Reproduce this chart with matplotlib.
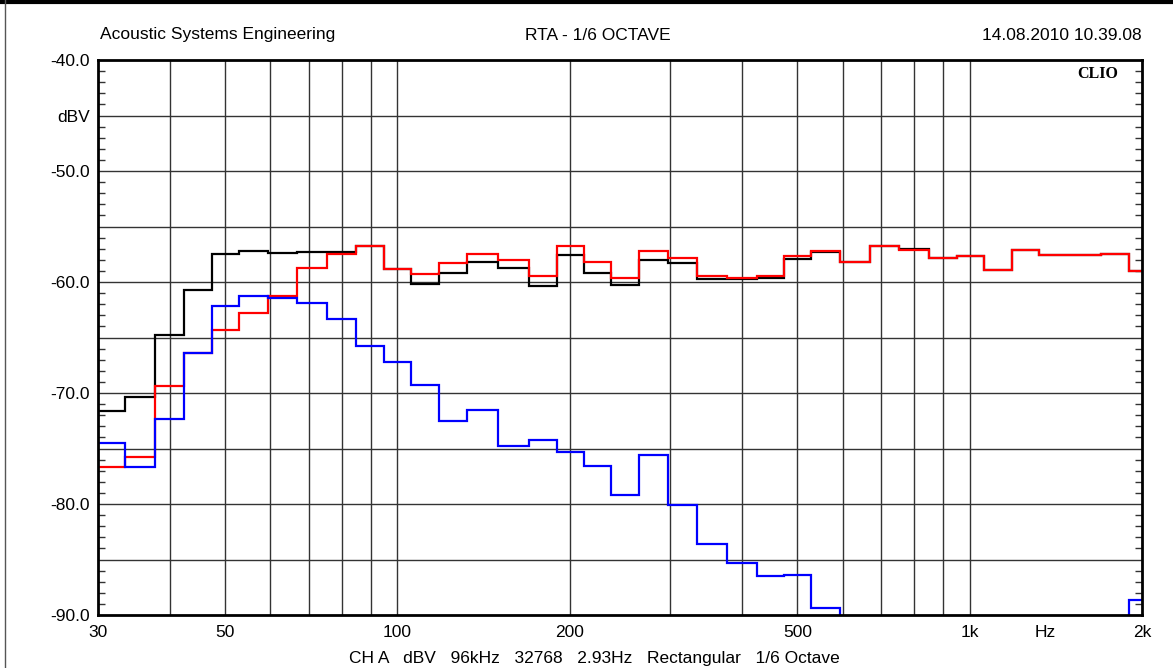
import numpy as np
import matplotlib
matplotlib.use("Agg")
import matplotlib.pyplot as plt
from matplotlib.ticker import FixedLocator, FixedFormatter, MultipleLocator, NullFormatter

# ---------------- data ----------------
band_centers = [31.5, 35.5, 40, 45, 50, 56, 63, 71, 80, 90, 100, 112, 125, 140, 160,
                180, 200, 224, 250, 280, 315, 355, 400, 450, 500, 560, 630, 710, 800,
                900, 1000, 1120, 1250, 1400, 1600, 1800, 2000]

black_db = [-71.6, -70.4, -64.75, -60.7, -57.5, -57.2, -57.4, -57.3, -57.3, -56.8,
            -58.8, -60.2, -59.2, -58.2, -58.7, -60.4, -57.6, -59.2, -60.3, -58.0,
            -58.3, -59.7, -59.7, -59.6, -57.9, -57.3, -58.2, -56.75, -57.0, -57.8,
            -57.7, -58.9, -57.1, -57.6, -57.6, -57.45, -59.0]

red_db = [-76.7, -75.8, -69.4, -66.4, -64.3, -62.8, -61.3, -58.7, -57.5, -56.8,
          -58.8, -59.3, -58.3, -57.5, -58.0, -59.5, -56.8, -58.2, -59.6, -57.2,
          -57.8, -59.5, -59.6, -59.5, -57.7, -57.2, -58.2, -56.75, -57.1, -57.8,
          -57.7, -58.9, -57.1, -57.6, -57.6, -57.45, -59.0]

blue_db = [-74.5, -76.7, -72.3, -66.4, -62.2, -61.3, -61.4, -61.9, -63.3, -65.8,
           -67.2, -69.3, -72.5, -71.5, -74.8, -74.2, -75.3, -76.6, -79.2, -75.6,
           -80.1, -83.6, -85.3, -86.5, -86.4, -89.4, -96.0, -96.0, -96.0, -96.0,
           -96.0, -96.0, -96.0, -96.0, -96.0, -96.0, -88.65]

x_grid = [40, 50, 60, 70, 80, 90, 100, 200, 300, 400, 500, 600, 700, 800, 900, 1000]
x_label_pos = [30, 50, 100, 200, 500, 1000, 1354, 2000]
x_label_txt = ["30", "50", "100", "200", "500", "1k", "Hz", "2k"]
y_major = [-90, -85, -80, -75, -70, -65, -60, -55, -50, -45, -40]
y_major_txt = ["-90.0", "", "-80.0", "", "-70.0", "", "-60.0", "", "-50.0", "dBV", "-40.0"]

header_left = "Acoustic Systems Engineering"
header_mid = "RTA - 1/6 OCTAVE"
header_right = "14.08.2010 10.39.08"
footer = "CH A   dBV   96kHz   32768   2.93Hz   Rectangular   1/6 Octave"

# ---------------- band edges ----------------
fc = np.array(band_centers, dtype=float)
inner = np.sqrt(fc[:-1] * fc[1:])
edges = np.concatenate([[fc[0] * 2 ** (-1 / 12)], inner, [fc[-1] * 2 ** (1 / 12)]])

# ---------------- figure ----------------
plt.rcParams['font.family'] = ['Liberation Sans', 'DejaVu Sans']
FS = 12.5
W, H = 1173, 668
fig = plt.figure(figsize=(W / 100, H / 100), dpi=100)
L, R, T, B = 98, 1142, 60, 615
ax = fig.add_axes([L / W, 1 - B / H, (R - L) / W, (B - T) / H])

ax.set_xscale('log')
ax.set_xlim(30, 2000)
ax.set_ylim(-90, -40)

grid_c = '#333333'
for xv in x_grid:
    ax.axvline(xv, color=grid_c, lw=1.0, zorder=1)
for yv in y_major[1:-1]:
    ax.axhline(yv, color=grid_c, lw=1.0, zorder=1)

ax.stairs(black_db, edges, baseline=None, color='black', lw=1.6, zorder=3)
ax.stairs(red_db, edges, baseline=None, color='#ff0000', lw=1.6, zorder=4)
ax.stairs(blue_db, edges, baseline=None, color='#0000ff', lw=1.6, zorder=5)

# x ticks
ax.xaxis.set_major_locator(FixedLocator(x_label_pos))
ax.xaxis.set_major_formatter(FixedFormatter(x_label_txt))
ax.xaxis.set_minor_locator(FixedLocator([]))
ax.xaxis.set_minor_formatter(NullFormatter())
ax.tick_params(axis='x', which='both', length=0, pad=7, labelsize=FS, colors='black')

# y ticks
ax.yaxis.set_major_locator(FixedLocator(y_major))
ax.yaxis.set_major_formatter(FixedFormatter(y_major_txt))
ax.yaxis.set_minor_locator(MultipleLocator(1))
ax.tick_params(axis='y', which='major', length=0, pad=6, labelsize=FS)
ax.tick_params(axis='y', which='minor', direction='in', length=5, width=1,
               left=True, right=True, color='#333333')

for s in ax.spines.values():
    s.set_linewidth(2.0)
    s.set_color('black')
    s.set_zorder(6)

# CLIO logo
ax.text(0.9575, 0.99, "CLIO", transform=ax.transAxes, ha='center', va='top',
        fontsize=11.5, fontweight='bold', family=['Liberation Serif', 'DejaVu Serif'])

# header / footer
fig.text(100 / W, 1 - 35 / H, header_left, ha='left', va='center', fontsize=FS)
fig.text(598 / W, 1 - 35 / H, header_mid, ha='center', va='center', fontsize=FS)
fig.text(R / W, 1 - 35 / H, header_right, ha='right', va='center', fontsize=FS)
fig.text(594 / W, 1 - 658 / H, footer, ha='center', va='center', fontsize=FS)

# outer frame lines
fig.add_artist(plt.Line2D([0, 1], [1 - 2 / H, 1 - 2 / H], transform=fig.transFigure,
                          color='black', lw=3))
fig.add_artist(plt.Line2D([4.5 / W, 4.5 / W], [0, 1], transform=fig.transFigure,
                          color='#555555', lw=1))

fig.savefig("out.png", dpi=100)
